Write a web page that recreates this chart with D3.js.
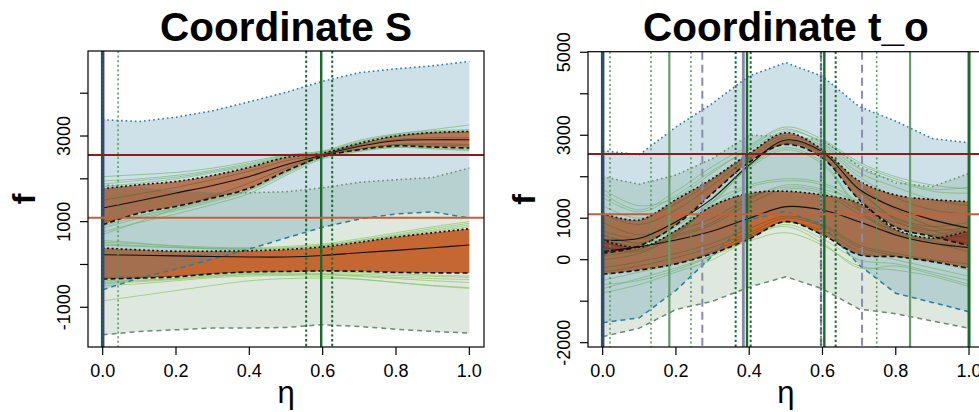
<!DOCTYPE html>
<html><head><meta charset="utf-8">
<script src="https://cdn.jsdelivr.net/npm/d3@7"></script>
<style>body{margin:0;background:#fff} svg{display:block}</style>
</head><body>
<svg id="chart" width="979" height="412"></svg>
<script>
// ---------- shared grid ----------
const eta = [0, 0.1, 0.2, 0.3, 0.4, 0.5, 0.6, 0.7, 0.8, 0.9, 1.0];
const xTicks = [0, 0.2, 0.4, 0.6, 0.8, 1.0];

// ---------- Coordinate S ----------
const sYTicks = [-1000, 0, 1000, 2000, 3000, 4000];
const sYLabels = [-1000, 1000, 3000];
const sBlueUpper = [3381, 3340, 3440, 3590, 3800, 4020, 4280, 4480, 4570, 4640, 4743];
const sBlueLower = [-593, -318, -108, 126, 360, 617, 870, 1060, 1180, 1230, 1084];
const sGreyUpper = [1862, 1800, 1720, 1675, 1675, 1700, 1790, 1920, 1980, 2030, 2252];
const sGreyLower = [-1643, -1565, -1526, -1486, -1486, -1470, -1409, -1449, -1512, -1565, -1603];
const sC1Upper = [1768, 1862, 1939, 2080, 2270, 2500, 2600, 2830, 3000, 3080, 3107];
const sC1Median = [1318, 1488, 1668, 1846, 2056, 2330, 2556, 2760, 2890, 2914, 2913];
const sC1Lower = [925, 1200, 1355, 1551, 1780, 2180, 2520, 2680, 2770, 2743, 2720];
const sC2Upper = [383, 340, 310, 310, 320, 350, 410, 520, 640, 740, 834];
const sC2Median = [227, 215, 200, 185, 175, 175, 210, 275, 330, 390, 453];
const sC2Lower = [-341, -320, -290, -220, -175, -163, -150, -160, -185, -195, -201];
const sCurves = [
  [1950, 2000, 2080, 2200, 2360, 2540, 2640, 2870, 3020, 3090, 3120],
  [2050, 2100, 2150, 2250, 2400, 2560, 2650, 2900, 3050, 3120, 3150],
  [1880, 1960, 2040, 2170, 2330, 2520, 2620, 2850, 3040, 3150, 3260],
  [1820, 1900, 2000, 2140, 2300, 2510, 2610, 2820, 2990, 3060, 3090],
  [850, 1080, 1260, 1470, 1720, 2120, 2500, 2650, 2740, 2710, 2680],
  [760, 980, 1180, 1400, 1660, 2080, 2470, 2640, 2730, 2700, 2660],
  [900, 1120, 1300, 1500, 1740, 2150, 2510, 2670, 2760, 2730, 2700],
  [1000, 1150, 1320, 1530, 1760, 2160, 2500, 2690, 2800, 2790, 2770],
  [700, 1000, 1300, 1600, 1900, 2250, 2540, 2700, 2800, 2820, 2800],
  [1500, 1650, 1800, 1980, 2180, 2420, 2580, 2790, 2920, 2960, 2960],
  [520, 480, 440, 400, 390, 420, 480, 600, 740, 880, 1000],
  [560, 500, 420, 380, 370, 390, 450, 560, 700, 840, 960],
  [450, 420, 390, 370, 360, 380, 440, 560, 680, 800, 920],
  [480, 440, 400, 360, 350, 370, 430, 540, 660, 770, 880],
  [-450, -400, -350, -280, -240, -230, -240, -280, -330, -380, -420],
  [-380, -360, -330, -270, -230, -220, -230, -260, -300, -330, -350],
  [-500, -450, -380, -310, -270, -260, -280, -340, -420, -490, -540],
  [-850, -730, -610, -490, -380, -330, -320, -350, -420, -500, -560],
  [-420, -380, -330, -250, -210, -200, -210, -230, -260, -280, -300],
  [-300, -290, -270, -210, -180, -170, -170, -190, -220, -250, -270]
];
const sHLines = [2556, 1091];
const sVLineEta = [0, 0.042, 0.555, 0.596, 0.626];
const sVLineKind = ['start', 'minor', 'near', 'main', 'near'];

// ---------- Coordinate t_o ----------
const tYTicks = [-2000, -1000, 0, 1000, 2000, 3000, 4000, 5000];
const tYLabels = [-2000, 0, 1000, 3000, 5000];
const tBlueUpper = [2627, 2530, 3200, 3770, 4430, 4750, 4420, 3690, 3340, 2920, 2819];
const tBlueLower = [-1518, -1400, -740, 95, 960, 1170, 820, -130, -810, -1030, -1253];
const tGreyUpper = [2000, 1820, 2040, 2440, 3000, 2970, 2890, 2250, 1850, 1760, 2082];
const tGreyLower = [-1855, -1650, -1200, -1000, -660, -410, -700, -1190, -1300, -1480, -1653];
const tC1Upper = [1118, 957, 1450, 1960, 2560, 3060, 2650, 1900, 1560, 1450, 1400];
const tC1Median = [475, 516, 917, 1479, 2282, 2885, 2600, 1700, 1250, 960, 757];
const tC1Lower = [154, 330, 837, 1600, 2350, 2780, 2450, 1450, 780, 560, 339];
const tC2Upper = [476, 300, 700, 1300, 1600, 1650, 1560, 1360, 730, 520, 700];
const tC2Median = [194, 315, 475, 692, 998, 1279, 1198, 917, 596, 395, 291];
const tC2Lower = [-352, -250, -100, 150, 500, 917, 600, 120, 74, -46, -207];
const tCurves = [
  [1700, 1300, 1500, 2100, 2700, 3150, 2800, 2200, 1900, 1650, 1600],
  [1500, 1150, 1550, 2150, 2650, 3100, 2850, 2300, 1950, 1700, 1750],
  [1300, 1000, 1350, 1900, 2550, 3000, 2750, 2100, 1750, 1450, 1300],
  [900, 600, 900, 1500, 2300, 2850, 2600, 1800, 1200, 800, 650],
  [300, 200, 650, 1350, 2250, 2800, 2550, 1700, 950, 600, 400],
  [1600, 1200, 1650, 2250, 2750, 3200, 2900, 2350, 2000, 1800, 1700],
  [1100, 850, 1200, 1800, 2450, 2950, 2700, 2000, 1500, 1200, 1100],
  [600, 400, 800, 1400, 2250, 2820, 2580, 1650, 1000, 700, 500],
  [0, 150, 600, 1400, 2200, 2650, 2300, 1200, 600, 400, 200],
  [100, 250, 700, 1450, 2250, 2700, 2350, 1250, 650, 450, 300],
  [-500, -300, -100, 200, 600, 900, 700, 200, 0, -200, -400],
  [-800, -600, -300, 0, 500, 850, 500, 0, -100, -300, -500],
  [-300, -150, 50, 300, 650, 1000, 800, 300, 100, -50, -250],
  [700, 500, 700, 1000, 1500, 1750, 1650, 1200, 900, 700, 800],
  [600, 400, 600, 900, 1450, 1800, 1700, 1400, 1000, 800, 900],
  [-600, -500, -250, 100, 550, 800, 400, -200, -150, -350, -600],
  [-200, -50, 150, 400, 750, 1050, 850, 350, 150, 0, -100],
  [400, 300, 550, 850, 1350, 1700, 1600, 1100, 700, 500, 600],
  [500, 350, 800, 1400, 1800, 1950, 1850, 1400, 800, 600, 800],
  [300, 250, 700, 1300, 1750, 1900, 1800, 1300, 700, 550, 750],
  [-700, -450, -200, 100, 450, 650, 350, -150, -250, -400, -650]
];
const tHLines = [2547, 1094];
const tVLineEta = [0, 0.02, 0.132, 0.182, 0.241, 0.272, 0.363, 0.384, 0.394, 0.404, 0.596, 0.605, 0.636, 0.708, 0.748, 0.839, 1.0];
const tVLineKind = ['start', 'minor', 'minor', 'mid', 'minor', 'lav', 'near', 'lavsolid', 'main', 'near', 'lavdash', 'main', 'near', 'lav', 'minor', 'mid', 'end'];

// ---------- drawing ----------
const FONT = "'Liberation Sans', Arial, Helvetica, sans-serif";
const svg = d3.select('#chart');

const panels = [
  { key: 's', title: 'Coordinate S', box: { l: 88, r: 484, t: 51, b: 347 }, yDom: [-1928, 4986],
    yTicks: sYTicks, yLabels: sYLabels, blue: [sBlueLower, sBlueUpper], grey: [sGreyLower, sGreyUpper],
    clusters: [[sC1Lower, sC1Median, sC1Upper], [sC2Lower, sC2Median, sC2Upper]],
    curves: sCurves, hLines: sHLines, vEta: sVLineEta, vKind: sVLineKind },
  { key: 't', title: 'Coordinate t_o', box: { l: 588, r: 983.7, t: 51.7, b: 347 }, yDom: [-2104, 5014],
    yTicks: tYTicks, yLabels: tYLabels, blue: [tBlueLower, tBlueUpper], grey: [tGreyLower, tGreyUpper],
    clusters: [[tC1Lower, tC1Median, tC1Upper], [tC2Lower, tC2Median, tC2Upper]],
    curves: tCurves, hLines: tHLines, vEta: tVLineEta, vKind: tVLineKind }
];

const vStyles = {
  start:    [{ c: '#3b3d8c', w: 3.5, d: null }, { c: '#1e6b2e', w: 1.4, d: '2,2' }],
  minor:    [{ c: '#4f9a55', w: 1.5, d: '2,2.6' }],
  near:     [{ c: '#1f6a30', w: 2, d: '2.4,2.4' }],
  main:     [{ c: '#1b6a2c', w: 2.4, d: null }],
  end:      [{ c: '#1b6a2c', w: 3, d: null }],
  mid:      [{ c: '#639f68', w: 2.2, d: null }],
  lav:      [{ c: '#8b8bb0', w: 2, d: '8,5' }],
  lavsolid: [{ c: '#8787aa', w: 2.8, d: null }],
  lavdash:  [{ c: '#8787aa', w: 2.4, d: '8,3' }, { c: '#1f6a30', w: 1.4, d: '2,2' }]
};

panels.forEach(p => {
  const b = p.box;
  const x = d3.scaleLinear().domain([-0.04, 1.04]).range([b.l, b.r]);
  const y = d3.scaleLinear().domain(p.yDom).range([b.b, b.t]);
  const clipId = 'clip-' + p.key;
  svg.append('clipPath').attr('id', clipId).append('rect')
    .attr('x', b.l).attr('y', b.t).attr('width', b.r - b.l).attr('height', b.b - b.t);
  const g = svg.append('g').attr('clip-path', `url(#${clipId})`);

  const area = (lo, hi, curve) => d3.area().x((d, i) => x(eta[i])).y0((d, i) => y(lo[i])).y1((d, i) => y(hi[i])).curve(curve)(eta);
  const line = (vals, curve) => d3.line().x((d, i) => x(eta[i])).y((d, i) => y(vals[i])).curve(curve)(eta);
  const smooth = d3.curveCatmullRom.alpha(0.5);
  const lin = d3.curveLinear;

  g.append('path').attr('d', area(p.grey[0], p.grey[1], lin)).attr('fill', 'rgba(96,140,96,0.2)');
  p.curves.forEach(c => g.append('path').attr('d', line(c, smooth)).attr('fill', 'none')
    .attr('stroke', 'rgba(138,196,100,0.7)').attr('stroke-width', 1));
  p.clusters.forEach(cl => g.append('path').attr('d', area(cl[0], cl[2], smooth))
    .attr('fill', 'rgb(225,113,58)').style('mix-blend-mode', 'multiply'));
  g.append('path').attr('d', area(p.blue[0], p.blue[1], lin)).attr('fill', 'rgba(63,135,163,0.25)');
  g.append('path').attr('d', line(p.grey[1], lin)).attr('fill', 'none').attr('stroke', '#6b8a73').attr('stroke-width', 1.5).attr('stroke-dasharray', '1.6,3');
  g.append('path').attr('d', line(p.grey[0], lin)).attr('fill', 'none').attr('stroke', '#6b8a73').attr('stroke-width', 1.5).attr('stroke-dasharray', '5,4');
  g.append('path').attr('d', line(p.blue[1], lin)).attr('fill', 'none').attr('stroke', '#2a7d9c').attr('stroke-width', 1.6).attr('stroke-dasharray', '1.6,3');
  g.append('path').attr('d', line(p.blue[0], lin)).attr('fill', 'none').attr('stroke', '#2a7d9c').attr('stroke-width', 1.5).attr('stroke-dasharray', '5,4');
  p.clusters.forEach(cl => {
    g.append('path').attr('d', line(cl[2], smooth)).attr('fill', 'none').attr('stroke', '#111').attr('stroke-width', 1.6).attr('stroke-dasharray', '2,2.5');
    g.append('path').attr('d', line(cl[0], smooth)).attr('fill', 'none').attr('stroke', '#111').attr('stroke-width', 1.6).attr('stroke-dasharray', '5,3');
    g.append('path').attr('d', line(cl[1], smooth)).attr('fill', 'none').attr('stroke', '#111').attr('stroke-width', 1.1);
  });
  const hCols = ['#8e1c1c', '#c4613c'];
  p.hLines.forEach((v, i) => svg.append('line').attr('x1', b.l).attr('x2', b.r).attr('y1', y(v)).attr('y2', y(v))
    .attr('stroke', hCols[i]).attr('stroke-width', 2));
  p.vEta.forEach((e, i) => vStyles[p.vKind[i]].forEach(s => {
    const l = g.append('line').attr('x1', x(e)).attr('x2', x(e)).attr('y1', b.t).attr('y2', b.b)
      .attr('stroke', s.c).attr('stroke-width', s.w);
    if (s.d) l.attr('stroke-dasharray', s.d);
  }));

  svg.append('rect').attr('x', b.l).attr('y', b.t).attr('width', b.r - b.l).attr('height', b.b - b.t)
    .attr('fill', 'none').attr('stroke', '#000').attr('stroke-width', 1.2);
  xTicks.forEach(t => {
    svg.append('line').attr('x1', x(t)).attr('x2', x(t)).attr('y1', b.b).attr('y2', b.b + 8).attr('stroke', '#000').attr('stroke-width', 1.2);
    svg.append('text').attr('x', x(t)).attr('y', 377).attr('text-anchor', 'middle')
      .attr('font-family', FONT).attr('font-size', 18).text(d3.format('.1f')(t));
  });
  p.yTicks.forEach(t => {
    svg.append('line').attr('x1', b.l - 8).attr('x2', b.l).attr('y1', y(t)).attr('y2', y(t)).attr('stroke', '#000').attr('stroke-width', 1.2);
  });
  p.yLabels.forEach(t => {
    svg.append('text').attr('transform', `translate(${b.l - 18},${y(t)}) rotate(-90)`).attr('text-anchor', 'middle')
      .attr('font-family', FONT).attr('font-size', 18).text(t);
  });
  const cx = (b.l + b.r) / 2;
  svg.append('text').attr('x', cx).attr('y', 40.5).attr('text-anchor', 'middle').attr('font-family', FONT)
    .attr('font-weight', 'bold').attr('font-size', 40.5).text(p.title);
  svg.append('text').attr('x', cx).attr('y', 403).attr('text-anchor', 'middle').attr('font-family', FONT)
    .attr('font-size', 31).text('η');
  svg.append('text').attr('transform', `translate(${b.l - 53},${(b.t + b.b) / 2}) rotate(-90)`).attr('text-anchor', 'middle')
    .attr('font-family', FONT).attr('font-weight', 'bold').attr('font-size', 32).text('f');
});
</script>
</body></html>
